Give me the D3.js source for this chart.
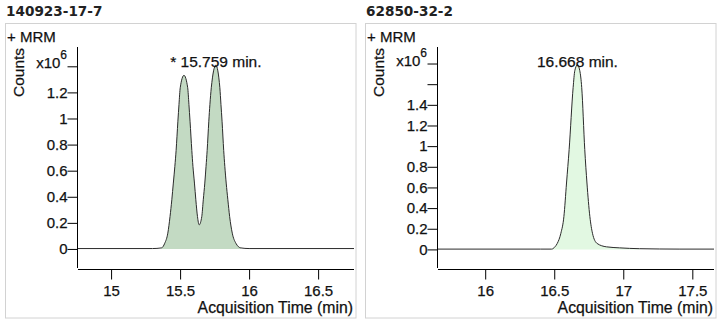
<!DOCTYPE html>
<html>
<head>
<meta charset="utf-8">
<script src="https://cdn.jsdelivr.net/npm/d3@7"></script>
<style>
  html, body { margin: 0; padding: 0; background: #fff; }
  svg { display: block; }
  text { font-family: "Liberation Sans", Arial, sans-serif; fill: #111; stroke: #111; stroke-width: 0.25px; }
  .title { font-family: "DejaVu Sans", sans-serif; font-weight: bold; font-size: 13.6px; fill: #222; stroke: none; }
</style>
</head>
<body>
<svg id="chart" width="723" height="327"></svg>
<script>
// Compound identifiers (CAS numbers) shown as panel titles
const compounds = ["140923-17-7", "62850-32-2"];
const scanLabels = ["+ MRM", "+ MRM"];

// Chromatogram 1: acquisition time (min) and counts (x10^6)
const timesA = [14.753, 15.30, 15.365, 15.389, 15.411, 15.427, 15.440, 15.451, 15.462, 15.471,
  15.484, 15.492, 15.501, 15.528, 15.555, 15.564, 15.572, 15.585, 15.593, 15.604, 15.614,
  15.626, 15.638, 15.657, 15.668, 15.679, 15.688, 15.696, 15.708, 15.716, 15.726, 15.759,
  15.788, 15.796, 15.804, 15.816, 15.824, 15.834, 15.846, 15.859, 15.878, 15.904, 15.940,
  16.00, 16.76];
const countsA = [0.003, 0.003, 0.008, 0.044, 0.121, 0.248, 0.377, 0.505, 0.633, 0.754,
  0.979, 1.108, 1.236, 1.331, 1.236, 1.108, 0.979, 0.754, 0.633, 0.505, 0.377,
  0.248, 0.185, 0.248, 0.377, 0.505, 0.633, 0.754, 0.979, 1.108, 1.236, 1.408,
  1.236, 1.108, 0.979, 0.754, 0.633, 0.505, 0.377, 0.248, 0.121, 0.044, 0.008,
  0.003, 0.003];

// Chromatogram 2
const timesB = [15.651, 16.40, 16.481, 16.505, 16.522, 16.548, 16.570, 16.589, 16.608, 16.637,
  16.649, 16.668, 16.685, 16.699, 16.721, 16.737, 16.758, 16.777, 16.810, 16.878, 16.974,
  17.118, 17.41, 17.657];
const countsB = [0.003, 0.003, 0.003, 0.025, 0.058, 0.156, 0.318, 0.643, 0.968, 1.569,
  1.731, 1.787, 1.731, 1.569, 0.968, 0.643, 0.318, 0.156, 0.058, 0.025, 0.015,
  0.007, 0.003, 0.003];

// Peak apex labels
const apexLabels = ["* 15.759 min.", "16.668 min."];
const apexTimes = [15.759, 16.668];

// Integrated peak regions (min)
const integrationA = [15.365, 15.940];
const integrationB = [16.481, 17.118];

// Axis ranges and ticks
const xDomainA = [14.753, 16.76];
const xDomainB = [15.651, 17.657];
const yDomainA = [-0.146, 1.548];
const yDomainB = [-0.18, 1.96];
const xTicksA = [15, 15.5, 16, 16.5];
const xTicksB = [16, 16.5, 17, 17.5];
const yTicksA = [0, 0.2, 0.4, 0.6, 0.8, 1, 1.2, 1.4];
const yTicksB = [0, 0.2, 0.4, 0.6, 0.8, 1, 1.2, 1.4, 1.6, 1.8];
const yUnlabeledA = [];
const yUnlabeledB = [1.6];
const yExponentTick = [1.4, 1.8];

const fills = ["#c3dac3", "#e2f8e2"];

const panels = [
  { ox: 0, title: compounds[0], scan: scanLabels[0], times: timesA, counts: countsA,
    xd: xDomainA, yd: yDomainA, xt: xTicksA, yt: yTicksA, skip: yUnlabeledA, exp: yExponentTick[0],
    integ: integrationA, apexLabel: apexLabels[0], apexT: apexTimes[0], fill: fills[0] },
  { ox: 360, title: compounds[1], scan: scanLabels[1], times: timesB, counts: countsB,
    xd: xDomainB, yd: yDomainB, xt: xTicksB, yt: yTicksB, skip: yUnlabeledB, exp: yExponentTick[1],
    integ: integrationB, apexLabel: apexLabels[1], apexT: apexTimes[1], fill: fills[1] }
];

const svg = d3.select("#chart");
svg.append("rect").attr("width", 723).attr("height", 327).attr("fill", "#fff");

const plotLeft = 77, plotRight = 354, plotTop = 47, plotBottom = 268;

panels.forEach(p => {
  const g = svg.append("g").attr("transform", `translate(${p.ox},0)`);

  g.append("text").attr("class", "title").attr("x", 6).attr("y", 16).text(p.title);

  g.append("rect")
    .attr("x", 5.5).attr("y", 23.5).attr("width", 350.5).attr("height", 294.5)
    .attr("fill", "none").attr("stroke", "#d2d2d2").attr("stroke-width", 1);

  g.append("text").attr("x", 7).attr("y", 41.5).style("font-size", "15px").text(p.scan);

  const x = d3.scaleLinear().domain(p.xd).range([plotLeft, plotRight]);
  const y = d3.scaleLinear().domain(p.yd).range([plotBottom, plotTop]);

  const pts = p.times.map((t, i) => ({ t, c: p.counts[i] }));
  const peakPts = pts.filter(d => d.t >= p.integ[0] && d.t <= p.integ[1]);

  const area = d3.area().x(d => x(d.t)).y0(y(0)).y1(d => y(d.c)).curve(d3.curveMonotoneX);
  const line = d3.line().x(d => x(d.t)).y(d => y(d.c)).curve(d3.curveMonotoneX);

  g.append("path").datum(peakPts).attr("d", area).attr("fill", p.fill);
  g.append("path").datum(pts).attr("d", line)
    .attr("fill", "none").attr("stroke", "#2b2b2b").attr("stroke-width", 1);

  // y axis
  const yAxis = d3.axisLeft(y).tickValues(p.yt).tickSize(10).tickPadding(0)
    .tickFormat(v => (v === p.exp || p.skip.includes(v)) ? "" : d3.format("~g")(v));
  const ya = g.append("g").attr("transform", `translate(${plotLeft + 0.5},0)`).call(yAxis);
  ya.select(".domain").remove();
  ya.selectAll(".tick line").attr("stroke", "#000");
  ya.selectAll(".tick text").style("font-size", "15px")
    .style("font-family", "Liberation Sans, Arial, sans-serif").attr("fill", "#111");
  g.append("line").attr("x1", plotLeft + 0.5).attr("x2", plotLeft + 0.5)
    .attr("y1", plotTop).attr("y2", plotBottom).attr("stroke", "#000");

  // exponent label on the top tick
  const ex = g.append("text").attr("x", 67).attr("y", y(p.exp) + 2).attr("text-anchor", "end")
    .style("font-size", "15px");
  ex.append("tspan").text("x10");
  ex.append("tspan").attr("dy", -9).style("font-size", "12px").text("6");

  // x axis
  const xAxis = d3.axisBottom(x).tickValues(p.xt).tickSize(10).tickPadding(5.5)
    .tickFormat(d3.format("~g"));
  const xa = g.append("g").attr("transform", `translate(0,${plotBottom + 1.5})`).call(xAxis);
  xa.select(".domain").remove();
  xa.selectAll(".tick line").attr("stroke", "#000");
  xa.selectAll(".tick text").style("font-size", "15px")
    .style("font-family", "Liberation Sans, Arial, sans-serif").attr("fill", "#111");
  g.append("line").attr("x1", plotLeft + 1).attr("x2", plotRight)
    .attr("y1", plotBottom + 1.5).attr("y2", plotBottom + 1.5).attr("stroke", "#000");

  // axis titles
  g.append("text").attr("x", 353).attr("y", 313).attr("text-anchor", "end")
    .style("font-size", "15.8px").text("Acquisition Time (min)");
  g.append("text").attr("transform", "translate(24,97) rotate(-90)")
    .style("font-size", "15.5px").text("Counts");

  // apex annotation
  g.append("text").attr("x", x(p.apexT)).attr("y", 67).attr("text-anchor", "middle")
    .style("font-size", "15.5px").text(p.apexLabel);
});
</script>
</body>
</html>
